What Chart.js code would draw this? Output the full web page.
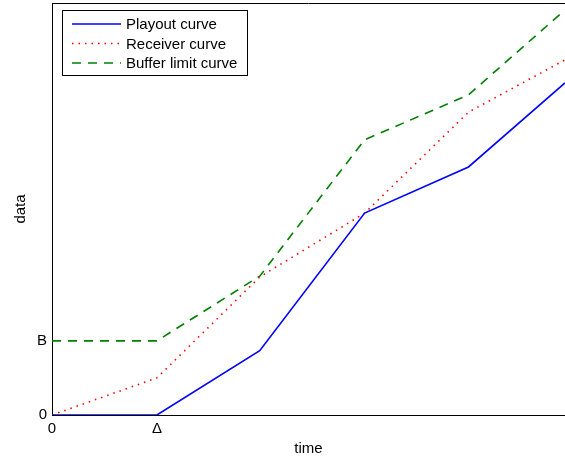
<!DOCTYPE html>
<html>
<head>
<meta charset="utf-8">
<script src="https://cdn.jsdelivr.net/npm/chart.js@4.4.1/dist/chart.umd.min.js"></script>
<style>
    html, body { margin: 0; padding: 0; background: #fff; }
    #wrap { position: relative; width: 565px; height: 461px; }
</style>
</head>
<body>
<div id="wrap"><canvas id="chart"></canvas></div>
<script>
    // --- DATA ---
    const times = [0, 1, 1.98, 2.98, 3.97, 4.89];
    const playout = [0, 0, 15.6, 49, 60.2, 80.6];
    const receiver = [0, 9, 33.5, 49, 73.5, 86.2];
    const bufferLimit = [18, 18, 33.7, 66.8, 77.7, 98.3];
    const seriesNames = ['Playout curve', 'Receiver curve', 'Buffer limit curve'];
    const xTicks = [0, 1];
    const xTickLabels = ['0', '\u0394'];
    const yTicks = [0, 18];
    const yTickLabels = ['0', 'B'];

    const colors = { blue: '#0000ff', red: '#ff0000', green: '#008000' };
    const dashes = [[], [1.5, 5], [9, 7]];
    const FONT = 'Arial, "Liberation Sans", sans-serif';
    const FS = 15;

    const toPoints = (ys) => ys.map((y, i) => ({ x: times[i], y: y }));

    // legend drawn inside the plot, top-left, with a black box; also the top frame line
    const boxLegend = {
        id: 'boxLegend',
        afterDatasetsDraw(chart) {
            const ctx = chart.ctx;
            const a = chart.chartArea;
            ctx.save();
            ctx.strokeStyle = '#000';
            ctx.lineWidth = 1;
            ctx.beginPath();
            ctx.moveTo(a.left, a.top + 0.5);
            ctx.lineTo(a.right, a.top + 0.5);
            ctx.stroke();

            const x0 = 62, y0 = 10, w = 185, h = 65;
            ctx.fillStyle = '#fff';
            ctx.fillRect(x0, y0, w, h);
            ctx.strokeRect(x0 + 0.5, y0 + 0.5, w, h);
            ctx.font = FS + 'px ' + FONT;
            ctx.textBaseline = 'middle';
            chart.data.datasets.forEach((ds, i) => {
                const y = y0 + 14 + i * 19.5;
                ctx.beginPath();
                ctx.setLineDash(ds.borderDash || []);
                ctx.strokeStyle = ds.borderColor;
                ctx.lineWidth = ds.borderWidth;
                ctx.moveTo(x0 + 10, y);
                ctx.lineTo(x0 + 59, y);
                ctx.stroke();
                ctx.setLineDash([]);
                ctx.fillStyle = '#000';
                ctx.fillText(ds.label, x0 + 64, y + 1);
            });
            ctx.restore();
        }
    };

    new Chart(document.getElementById('chart'), {
        type: 'line',
        data: {
            datasets: [
                { label: seriesNames[0], data: toPoints(playout), borderColor: colors.blue, borderWidth: 1.6, borderDash: dashes[0] },
                { label: seriesNames[1], data: toPoints(receiver), borderColor: colors.red, borderWidth: 1.6, borderDash: dashes[1] },
                { label: seriesNames[2], data: toPoints(bufferLimit), borderColor: colors.green, borderWidth: 1.6, borderDash: dashes[2] }
            ]
        },
        options: {
            responsive: true,
            maintainAspectRatio: false,
            animation: false,
            layout: { padding: { left: 0, right: 0, top: 3, bottom: 0 } },
            elements: { point: { radius: 0 }, line: { tension: 0 } },
            plugins: { legend: { display: false }, tooltip: { enabled: false } },
            scales: {
                x: {
                    type: 'linear', min: 0, max: times[times.length - 1],
                    grid: { display: false, drawTicks: false, tickLength: 0 },
                    border: { display: true, color: '#000', width: 1 },
                    afterBuildTicks: (s) => { s.ticks = xTicks.map(v => ({ value: v })); },
                    afterFit: (s) => { s.height = 46; s.paddingLeft = 0; s.paddingRight = 0; },
                    ticks: {
                        color: '#000', padding: 5, maxRotation: 0, autoSkip: false,
                        font: { family: FONT, size: FS },
                        callback: (v) => xTickLabels[xTicks.indexOf(v)]
                    },
                    title: { display: true, text: 'time', color: '#000', font: { family: FONT, size: FS }, padding: { top: 4, bottom: 3 } }
                },
                y: {
                    type: 'linear', min: 0, max: 100,
                    grid: { display: false, drawTicks: false, tickLength: 0 },
                    border: { display: true, color: '#000', width: 1 },
                    afterBuildTicks: (s) => { s.ticks = yTicks.map(v => ({ value: v })); },
                    afterFit: (s) => { s.width = 52; s.paddingTop = 0; s.paddingBottom = 0; },
                    ticks: {
                        color: '#000', padding: 5, autoSkip: false,
                        font: { family: FONT, size: FS },
                        callback: (v) => yTickLabels[yTicks.indexOf(v)]
                    },
                    title: { display: true, text: 'data', color: '#000', font: { family: FONT, size: FS }, padding: { top: 12, bottom: 4 } }
                }
            }
        },
        plugins: [boxLegend]
    });
</script>
</body>
</html>
